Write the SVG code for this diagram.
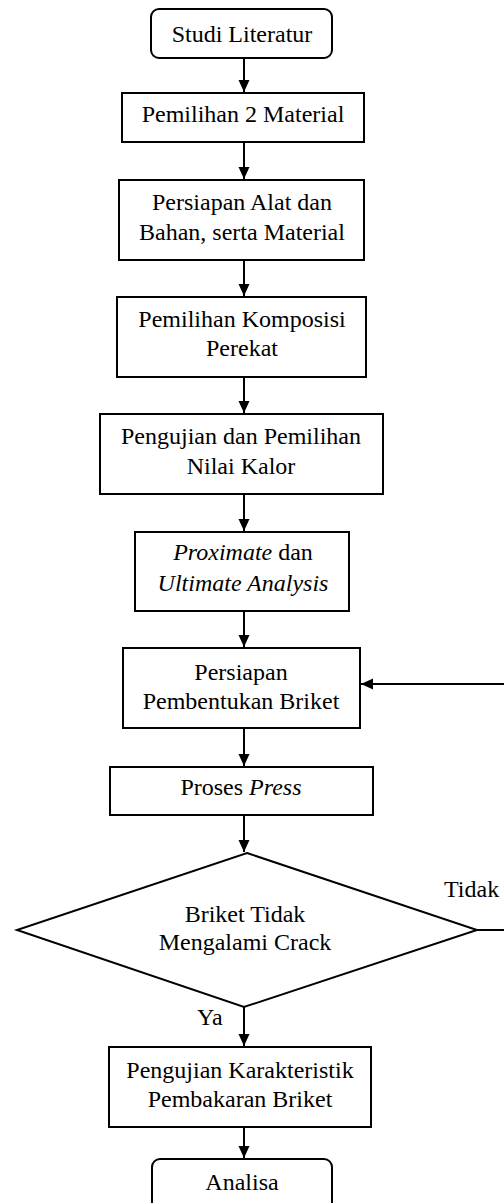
<svg xmlns="http://www.w3.org/2000/svg" width="504" height="1203" viewBox="0 0 504 1203">
<style>
.box{fill:#fff;stroke:#000;stroke-width:2}
.t{font-size:24px;fill:#000;text-anchor:middle}
.l{font-size:24px;fill:#000}
.c{fill:none;stroke:#000;stroke-width:2}
</style>
<defs>
<marker id="ah" markerUnits="userSpaceOnUse" markerWidth="14" markerHeight="14" viewBox="0 0 14 14" refX="12" refY="7" orient="auto">
<path d="M0,1.5 L12,7 L0,12.5 Z" fill="#000"/>
</marker>
</defs>
<rect width="504" height="1203" fill="#fff"/>
<g font-family="'Liberation Serif', 'Times New Roman', 'DejaVu Serif', serif">
<g id="connectors">
<line class="c" x1="244" y1="58" x2="244" y2="92" marker-end="url(#ah)"/>
<line class="c" x1="244" y1="142" x2="244" y2="179" marker-end="url(#ah)"/>
<line class="c" x1="244" y1="260" x2="244" y2="296" marker-end="url(#ah)"/>
<line class="c" x1="244" y1="377" x2="244" y2="413" marker-end="url(#ah)"/>
<line class="c" x1="244" y1="494" x2="244" y2="531" marker-end="url(#ah)"/>
<line class="c" x1="244" y1="611" x2="244" y2="647" marker-end="url(#ah)"/>
<line class="c" x1="244" y1="728" x2="244" y2="766" marker-end="url(#ah)"/>
<line class="c" x1="244" y1="815" x2="244" y2="852" marker-end="url(#ah)"/>
<line class="c" x1="244" y1="1007" x2="244" y2="1046" marker-end="url(#ah)"/>
<line class="c" x1="244" y1="1127" x2="244" y2="1158" marker-end="url(#ah)"/>
<path class="c" d="M477,930 H508 V684 H361" marker-end="url(#ah)"/>
<text class="l" x="444" y="897">Tidak</text>
<text class="l" x="197" y="1025">Ya</text>
</g>
<g id="n1">
<rect class="box" x="151" y="9" width="181" height="49" rx="8"/>
<text class="t" x="242" y="42">Studi Literatur</text>
</g>
<g id="n2">
<rect class="box" x="122" y="93" width="242" height="49"/>
<text class="t" x="243" y="122">Pemilihan 2 Material</text>
</g>
<g id="n3">
<rect class="box" x="119" y="180" width="245" height="80"/>
<text class="t" x="242" y="210">Persiapan Alat dan</text>
<text class="t" x="242" y="240">Bahan, serta Material</text>
</g>
<g id="n4">
<rect class="box" x="117" y="297" width="249" height="80"/>
<text class="t" x="242" y="327">Pemilihan Komposisi</text>
<text class="t" x="242" y="356">Perekat</text>
</g>
<g id="n5">
<rect class="box" x="100" y="414" width="283" height="80"/>
<text class="t" x="241" y="444">Pengujian dan Pemilihan</text>
<text class="t" x="241" y="474">Nilai Kalor</text>
</g>
<g id="n6">
<rect class="box" x="135" y="532" width="214" height="79"/>
<text class="t" x="243" y="560"><tspan font-style="italic">Proximate</tspan> dan</text>
<text class="t" x="243" y="591" font-style="italic">Ultimate Analysis</text>
</g>
<g id="n7">
<rect class="box" x="123" y="648" width="237" height="80"/>
<text class="t" x="241" y="680">Persiapan</text>
<text class="t" x="241" y="709">Pembentukan Briket</text>
</g>
<g id="n8">
<rect class="box" x="110" y="767" width="263" height="48"/>
<text class="t" x="241" y="795">Proses <tspan font-style="italic">Press</tspan></text>
</g>
<g id="n9">
<polygon class="box" points="247,853 477,930 244,1007 17,930"/>
<text class="t" x="245" y="922">Briket Tidak</text>
<text class="t" x="245" y="950">Mengalami Crack</text>
</g>
<g id="n10">
<rect class="box" x="109" y="1047" width="262" height="80"/>
<text class="t" x="240" y="1078">Pengujian Karakteristik</text>
<text class="t" x="240" y="1107">Pembakaran Briket</text>
</g>
<g id="n11">
<rect class="box" x="152" y="1159" width="180" height="60" rx="8"/>
<text class="t" x="242" y="1190">Analisa</text>
</g>
</g>
</svg>
